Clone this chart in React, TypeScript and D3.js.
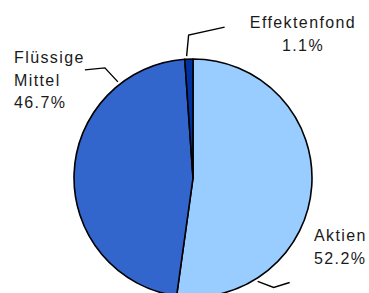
import React, { useEffect, useRef } from 'react';
import * as d3 from 'd3';

// slice data, clockwise from 12 o'clock
const categories = ['Aktien', 'Flüssige Mittel', 'Effektenfond'];
const shares = [52.2, 46.7, 1.1];
const labelLines = [['Aktien', '52.2%'], ['Flüssige', 'Mittel', '46.7%'], ['Effektenfond', '1.1%']];

const colors = ['#99ccff', '#3366cc', '#0033a0'];

// where the (manually placed) labels sit: leader anchor angle in degrees,
// elbow / end offsets from the anchor, text position and anchor
const labelLayout = [
  { angle: 148, elbow: [16, 6], end: [32, 1], tx: 314, ty: 241, anchor: 'start' },
  { angle: 322, elbow: [-13, -14], end: [-33, -12], tx: 14, ty: 63, anchor: 'start' },
  { angle: 357, elbow: [2, -21], end: [38, -29], tx: 303, ty: 28, anchor: 'middle' },
];

const W = 369;
const H = 293;

const App = () => {
  const svgRef = useRef<SVGSVGElement>(null);

  useEffect(() => {
    const svg = d3.select(svgRef.current);
    svg.selectAll('*').remove();

    const cx = 193;
    const cy = 178;
    const r = 119;

    const pie = d3.pie<number>().sort(null).value(d => d);
    const arcs = pie(shares);
    const arc = d3.arc<d3.PieArcDatum<number>>().innerRadius(0).outerRadius(r);

    const g = svg.append('g').attr('transform', `translate(${cx},${cy})`);

    g.selectAll('path.slice')
      .data(arcs)
      .enter()
      .append('path')
      .attr('class', 'slice')
      .attr('d', arc)
      .attr('fill', (d, i) => colors[i])
      .attr('stroke', '#000')
      .attr('stroke-width', 1.6)
      .attr('stroke-linejoin', 'round');

    // leader lines
    labelLayout.forEach((l, i) => {
      const a = (l.angle * Math.PI) / 180;
      const [x0, y0] = d3.pointRadial(a, r + 3);
      const pts: [number, number][] = [
        [cx + x0, cy + y0],
        [cx + x0 + l.elbow[0], cy + y0 + l.elbow[1]],
        [cx + x0 + l.end[0], cy + y0 + l.end[1]],
      ];
      svg.append('path')
        .attr('d', d3.line()(pts))
        .attr('fill', 'none')
        .attr('stroke', '#000')
        .attr('stroke-width', 1.4);

      const t = svg.append('text')
        .attr('x', l.tx)
        .attr('y', l.ty)
        .attr('text-anchor', l.anchor)
        .attr('font-family', 'Liberation Sans, Arial, sans-serif')
        .attr('font-size', 16)
        .attr('letter-spacing', 1.4)
        .attr('fill', '#1a1a1a');
      labelLines[i].forEach((s, j) => {
        t.append('tspan')
          .attr('x', l.tx)
          .attr('dy', j === 0 ? 0 : 22.5)
          .text(s);
      });
    });
  }, []);

  return (
    <svg
      ref={svgRef}
      width={W}
      height={H}
      style={{ position: 'absolute', left: 0, top: 0, background: '#fff' }}
    ></svg>
  );
};

export default App;
